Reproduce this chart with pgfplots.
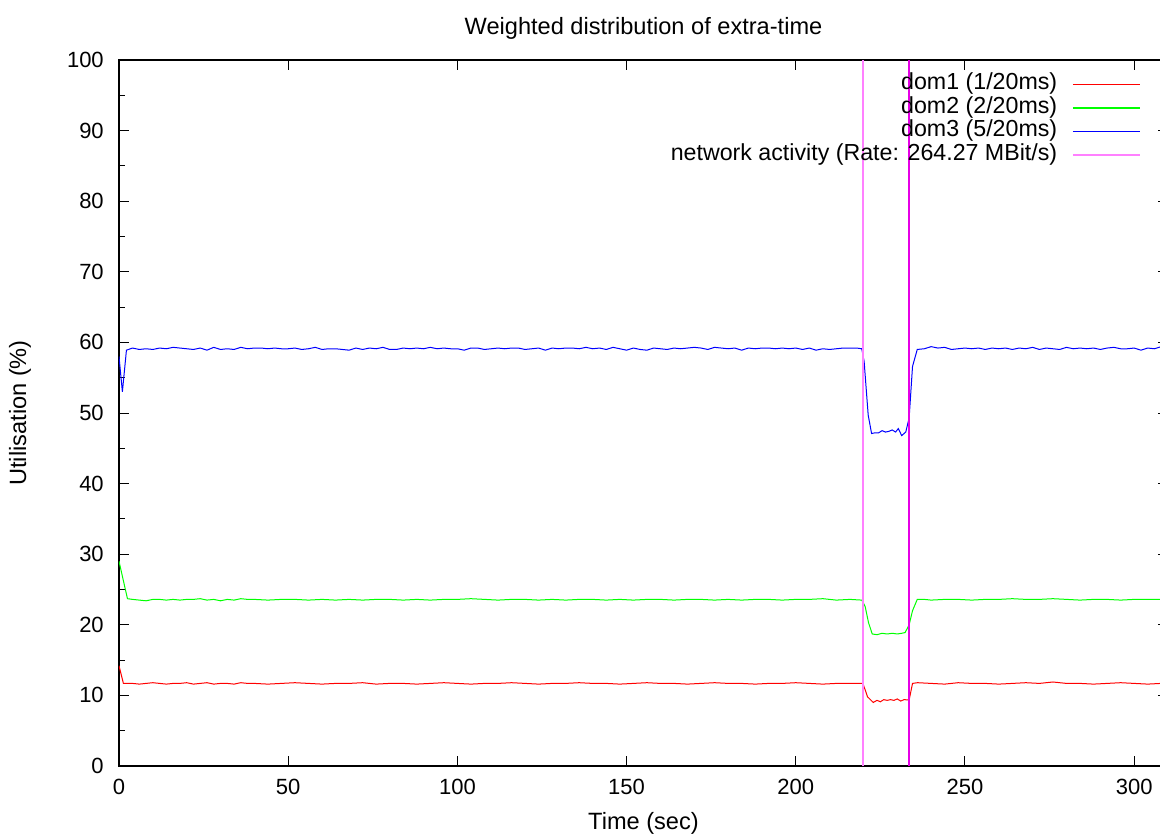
\documentclass[border=0pt]{standalone}
\usepackage{pgfplots}
\pgfplotsset{compat=1.18}
\usepackage{fontspec}
\setmainfont{Liberation Sans}
\definecolor{gpred}{RGB}{255,0,0}
\definecolor{gpgreen}{RGB}{0,255,0}
\definecolor{gpblue}{RGB}{0,0,255}
\definecolor{gpmag}{RGB}{255,128,255}
\definecolor{gpmagd}{RGB}{230,0,230}
\newcommand{\gpfont}{\fontsize{11}{13}\selectfont}
\newcommand{\gptfont}{\fontsize{11.8}{14}\selectfont}
\newcommand{\gplfont}{\fontsize{11.6}{14}\selectfont}
\begin{document}
\begin{tikzpicture}
\begin{axis}[
  name=ax,
  scale only axis,
  width=524.5pt, height=353pt,
  xmin=0, xmax=310, ymin=0, ymax=100,
  xtick={0,50,...,300},
  ytick={0,10,...,100},
  minor y tick num=1,
  major tick length=5pt,
  minor tick length=3pt,
  tick align=inside,
  every tick/.style={black, line width=0.5pt},
  axis line style={line width=1pt},
  /pgf/number format/assume math mode=true,
  tick label style={font=\gpfont},
  xticklabel style={yshift=-2.9pt},
  yticklabel style={xshift=-4.1pt},
  title={Weighted distribution of extra-time},
  every axis title/.style={font=\gptfont, at={(rel axis cs:0.5,1)}, anchor=center, yshift=16pt},
  xlabel={Time (sec)},
  ylabel={Utilisation (\%)},
  every axis x label/.style={at={(rel axis cs:0.5,0)}, anchor=center, yshift=-28.5pt, font=\gptfont},
  every axis y label/.style={at={(rel axis cs:0,0.5)}, xshift=-49.5pt, rotate=90, anchor=center, font=\gptfont},
  legend plot pos=right,
  legend cell align=right,
  legend style={draw=none, fill=none, font=\gplfont, at={(rel axis cs:1,1)}, anchor=north east,
    xshift=-10.5pt, yshift=-4.7pt,
    nodes={inner sep=0pt, text height=8pt, text depth=2.5pt},
    row sep=1.3pt, column sep=7.5pt},
  legend image code/.code={\draw[#1, line width=0.7pt] (0pt,0pt) -- (33.5pt,0pt);},
]
\addplot[color=gpred, line width=0.5pt] coordinates {
(0,14.2) (1.3,11.7) (4,11.7) (6,11.6) (8,11.7) (10,11.8) (12,11.7) (14,11.6) (16,11.7) (18,11.7)
(20,11.8) (22,11.6) (24,11.7) (26,11.8) (28,11.6) (30,11.7) (32,11.7) (34,11.6) (36,11.8) (38,11.7)
(40,11.7) (44,11.6) (48,11.7) (52,11.8) (56,11.7) (60,11.6) (64,11.7) (68,11.7) (72,11.8) (76,11.6)
(80,11.7) (84,11.7) (88,11.6) (92,11.7) (96,11.8) (100,11.7) (104,11.6) (108,11.7) (112,11.7) (116,11.8)
(120,11.7) (124,11.6) (128,11.7) (132,11.7) (136,11.8) (140,11.7) (144,11.7) (148,11.6) (152,11.7) (156,11.8)
(160,11.7) (164,11.7) (168,11.6) (172,11.7) (176,11.8) (180,11.7) (184,11.7) (188,11.6) (192,11.7) (196,11.7)
(200,11.8) (204,11.7) (208,11.6) (212,11.7) (216,11.7) (219.8,11.7) (220.5,10.8) (221.2,9.8) (222.9,9.0)
(224,9.3) (225,9.1) (226,9.4) (227,9.3) (228,9.4) (229,9.3) (230,9.5) (231,9.2) (232,9.4) (233.5,9.35)
(234.5,11.7) (236,11.8) (240,11.7) (244,11.6) (248,11.8) (252,11.7) (256,11.7) (260,11.6) (264,11.7)
(268,11.8) (272,11.7) (276,11.9) (280,11.7) (284,11.7) (288,11.6) (292,11.7) (296,11.8) (300,11.7)
(304,11.6) (308,11.7) (310,11.7)
};
\addlegendentry{dom1 (1/20ms)}
\addplot[color=gpgreen, line width=0.5pt] coordinates {
(0,29.0) (2.5,23.7) (4,23.6) (6,23.5) (8,23.4) (10,23.6) (12,23.6) (14,23.5) (16,23.6) (18,23.5)
(20,23.6) (22,23.6) (24,23.7) (26,23.5) (28,23.6) (30,23.4) (32,23.6) (34,23.5) (36,23.7) (38,23.6)
(40,23.6) (44,23.5) (48,23.6) (52,23.6) (56,23.5) (60,23.6) (64,23.5) (68,23.6) (72,23.5) (76,23.6)
(80,23.6) (84,23.5) (88,23.6) (92,23.5) (96,23.6) (100,23.6) (104,23.7) (108,23.6) (112,23.5) (116,23.6)
(120,23.6) (124,23.5) (128,23.6) (132,23.5) (136,23.6) (140,23.6) (144,23.5) (148,23.6) (152,23.5) (156,23.6)
(160,23.6) (164,23.5) (168,23.6) (172,23.6) (176,23.5) (180,23.6) (184,23.5) (188,23.6) (192,23.6) (196,23.5)
(200,23.6) (204,23.6) (208,23.7) (212,23.5) (216,23.6) (219.5,23.5) (220.5,22.6) (221.5,20.3) (222.6,18.7)
(224,18.6) (225.5,18.8) (227,18.7) (228.5,18.8) (230,18.7) (231.3,18.8) (232.3,18.9) (233.5,20.0)
(234.5,22.0) (235.9,23.6) (238,23.6) (240,23.5) (244,23.6) (248,23.6) (252,23.5) (256,23.6) (260,23.6)
(264,23.7) (268,23.6) (272,23.6) (276,23.7) (280,23.6) (284,23.5) (288,23.6) (292,23.6) (296,23.5)
(300,23.6) (304,23.6) (308,23.6) (310,23.6)
};
\addlegendentry{dom2 (2/20ms)}
\addplot[color=gpblue, line width=0.5pt] coordinates {
(0,58.0) (1,53.0) (2.2,58.9) (4,59.2) (6,59.0) (8,59.1) (10,59.0) (12,59.2) (14,59.1) (16,59.3) (18,59.2)
(20,59.1) (22,59.0) (24,59.2) (26,58.9) (28,59.3) (30,59.0) (32,59.1) (34,59.0) (36,59.3) (38,59.1)
(40,59.2) (42,59.2) (44,59.1) (46,59.2) (48,59.1) (50,59.1) (52,59.2) (54,59.0) (56,59.1) (58,59.3)
(60,59.0) (62,59.1) (64,59.1) (66,59.0) (68,58.9) (70,59.2) (72,59.0) (74,59.2) (76,59.1) (78,59.3)
(80,59.0) (82,59.0) (84,59.2) (86,59.1) (88,59.2) (90,59.1) (92,59.3) (94,59.1) (96,59.2) (98,59.1)
(100,59.1) (102,58.9) (104,59.2) (106,59.2) (108,59.0) (110,59.1) (112,59.2) (114,59.1) (116,59.2) (118,59.2)
(120,59.0) (122,59.1) (124,59.2) (126,58.9) (128,59.2) (130,59.1) (132,59.2) (134,59.2) (136,59.1) (138,59.3)
(140,59.1) (142,59.2) (144,59.0) (146,59.3) (148,59.1) (150,58.9) (152,59.2) (154,59.0) (156,58.9) (158,59.2)
(160,59.1) (162,59.0) (164,59.2) (166,59.1) (168,59.2) (170,59.3) (172,59.2) (174,59.0) (176,59.3) (178,59.2)
(180,59.1) (182,59.2) (184,58.9) (186,59.2) (188,59.1) (190,59.2) (192,59.2) (194,59.1) (196,59.2) (198,59.1)
(200,59.2) (202,59.0) (204,59.2) (206,58.9) (208,59.1) (210,59.0) (212,59.1) (214,59.2) (216,59.2) (218,59.2)
(219.5,59.1) (220.2,57.3) (221.4,49.7) (222.4,47.1) (223.5,47.2) (224.5,47.2) (225.5,47.5) (226.5,47.3)
(227.5,47.4) (228.5,47.6) (229.5,47.3) (230.3,47.8) (231.3,46.8) (232.5,47.3) (233.5,49.3) (234.5,56.6)
(235.9,59.0) (238,59.1) (240,59.4) (242,59.2) (244,59.3) (246,59.0) (248,59.1) (250,59.2) (252,59.1)
(254,59.2) (256,59.0) (258,59.2) (260,59.1) (262,59.2) (264,59.0) (266,59.2) (268,59.1) (270,59.3)
(272,59.0) (274,59.2) (276,59.1) (278,59.0) (280,59.3) (282,59.1) (284,59.2) (286,59.1) (288,59.2)
(290,59.0) (292,59.2) (294,59.3) (296,59.1) (298,59.1) (300,59.2) (302,58.9) (304,59.2) (306,59.1)
(308,59.4) (310,60.0)
};
\addlegendentry{dom3 (5/20ms)}
\addplot[color=gpmag, line width=1pt] coordinates {(220,0) (220,100)};
\addlegendentry{network activity (Rate: 264.27 MBit/s)}
\addplot[color=gpmagd, line width=0.7pt, forget plot] coordinates {(233.5,0) (233.5,100)};
\end{axis}
\pgfresetboundingbox
\path ([xshift=-59.5pt,yshift=-35pt]ax.south west) rectangle ([xshift=-4pt,yshift=30pt]ax.north east);
\end{tikzpicture}
\end{document}
